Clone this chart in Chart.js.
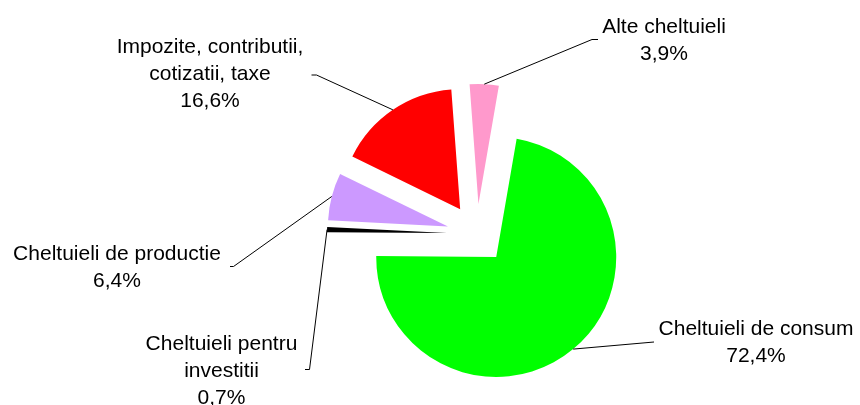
<!DOCTYPE html>
<html>
<head>
<meta charset="utf-8">
<script src="https://cdn.jsdelivr.net/npm/chart.js@4.4.1/dist/chart.umd.min.js"></script>
<style>
    html, body { margin: 0; padding: 0; background: #ffffff; }
    #wrap { width: 860px; height: 405px; }
</style>
</head>
<body>
<div id="wrap"><canvas id="pieChart" width="860" height="405"></canvas></div>
<script>
// data (shares in %)
const categories = ["Cheltuieli de consum", "Cheltuieli pentru investitii", "Cheltuieli de productie", "Impozite, contributii, cotizatii, taxe", "Alte cheltuieli"];
const shares = [72.4, 0.7, 6.4, 16.6, 3.9];
const labelLines = [
    ["Cheltuieli de consum"],
    ["Cheltuieli pentru", "investitii"],
    ["Cheltuieli de productie"],
    ["Impozite, contributii,", "cotizatii, taxe"],
    ["Alte cheltuieli"]
];

const sliceColors = ["#00ff00", "#000000", "#cc99ff", "#ff0000", "#ff99cc"];
const explode = 30;
const lineHeight = 27;
const fontSpec = "21px 'Liberation Sans', Arial, sans-serif";

// label anchor (centre x, first baseline) and leader path from the label towards the slice
const labelLayout = [
    { x: 756, y: 335, path: [[654, 342]] },
    { x: 221.5, y: 350, path: [[305, 369.5], [309.5, 369.5]] },
    { x: 117, y: 259.5, path: [[230, 266.5], [233.5, 266.5]] },
    { x: 210, y: 52.5, path: [[311.5, 75], [316.5, 75]] },
    { x: 664, y: 32.5, path: [[598, 39.5], [592, 39.5]] }
];

function formatShare(v) {
    return v.toFixed(1).replace(".", ",") + "%";
}

const explodePlugin = {
    id: "explode",
    beforeDatasetsDraw(chart) {
        const area = chart.chartArea;
        const cx = (area.left + area.right) / 2;
        const cy = (area.top + area.bottom) / 2;
        chart.getDatasetMeta(0).data.forEach(arc => {
            const mid = (arc.startAngle + arc.endAngle) / 2;
            arc.x = cx + Math.cos(mid) * explode;
            arc.y = cy + Math.sin(mid) * explode;
        });
    }
};

const labelPlugin = {
    id: "sliceLabels",
    afterDatasetsDraw(chart) {
        const ctx = chart.ctx;
        const arcs = chart.getDatasetMeta(0).data;
        ctx.save();
        // leader lines
        ctx.strokeStyle = "#000000";
        ctx.lineWidth = 1;
        arcs.forEach((arc, i) => {
            const mid = (arc.startAngle + arc.endAngle) / 2;
            const ex = arc.x + Math.cos(mid) * arc.outerRadius;
            const ey = arc.y + Math.sin(mid) * arc.outerRadius;
            const path = labelLayout[i].path;
            ctx.beginPath();
            ctx.moveTo(path[0][0], path[0][1]);
            for (let k = 1; k < path.length; k++) {
                ctx.lineTo(path[k][0], path[k][1]);
            }
            ctx.lineTo(ex, ey);
            ctx.stroke();
        });
        // texts
        ctx.fillStyle = "#000000";
        ctx.font = fontSpec;
        ctx.textAlign = "center";
        ctx.textBaseline = "alphabetic";
        arcs.forEach((arc, i) => {
            const lay = labelLayout[i];
            const lines = labelLines[i].concat([formatShare(shares[i])]);
            lines.forEach((t, k) => {
                ctx.fillText(t, lay.x, lay.y + k * lineHeight);
            });
        });
        ctx.restore();
    }
};

new Chart(document.getElementById("pieChart"), {
    type: "pie",
    data: {
        labels: categories,
        datasets: [{
            data: shares,
            backgroundColor: sliceColors,
            borderWidth: 0
        }]
    },
    options: {
        responsive: false,
        animation: false,
        rotation: 9.8,
        radius: 120,
        layout: {
            padding: { left: 100, right: 6, top: 70, bottom: 7 }
        },
        plugins: {
            legend: { display: false },
            tooltip: { enabled: false }
        }
    },
    plugins: [explodePlugin, labelPlugin]
});
</script>
</body>
</html>
